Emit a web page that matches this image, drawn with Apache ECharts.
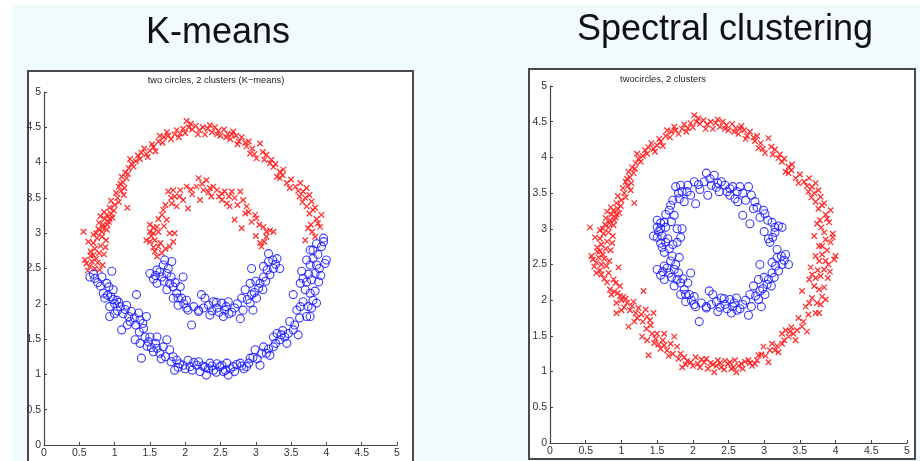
<!DOCTYPE html>
<html>
<head>
<meta charset="utf-8">
<script src="https://cdn.jsdelivr.net/npm/echarts@6/dist/echarts.min.js"></script>
<style>
  html, body { margin: 0; padding: 0; background: #f1fafd; }
  #chart { width: 920px; height: 461px; }
</style>
</head>
<body>
<div id="chart"></div>
<script>
// outer ring, upper part (red in both panels)
const outerUpper = [
  [0.62,2.47],[0.65,2.53],[0.72,2.50],[0.79,2.48],[0.83,2.55],[0.58,2.62],[0.60,2.57],[0.68,2.60],
  [0.66,2.68],[0.74,2.64],[0.78,2.72],[0.85,2.70],[0.72,2.78],[0.80,2.82],[0.70,2.86],[0.63,2.88],
  [0.88,2.90],[0.75,2.93],[0.82,2.95],[0.70,2.98],[0.82,3.02],[0.56,3.02],[0.77,3.06],[0.89,3.05],
  [0.84,3.12],[0.78,3.15],[0.92,3.16],[0.86,3.20],[0.80,3.24],[0.89,3.26],[0.95,3.28],[0.85,3.30],
  [0.93,3.36],[1.00,3.40],[0.95,3.46],[1.04,3.50],[1.18,3.36],[1.02,3.57],[1.09,3.60],[1.06,3.66],
  [1.12,3.72],[1.10,3.80],[1.17,3.78],[1.15,3.86],[1.20,3.92],[1.24,3.98],[1.22,4.05],[1.30,4.02],
  [1.33,4.10],[1.38,4.14],[1.45,4.12],[1.42,4.20],[1.50,4.17],[1.55,4.22],[1.58,4.16],[1.62,4.30],
  [1.64,4.38],[1.70,4.36],[1.74,4.43],[1.80,4.33],[1.85,4.40],[1.88,4.46],[1.93,4.41],[1.97,4.48],
  [2.02,4.59],[2.05,4.50],[2.10,4.47],[2.15,4.52],[2.20,4.46],[2.25,4.50],[2.28,4.40],[2.32,4.48],
  [2.38,4.43],[2.42,4.50],[2.47,4.45],[2.50,4.38],[2.55,4.47],[2.60,4.41],[2.64,4.33],[2.68,4.44],
  [2.72,4.38],[2.76,4.30],[2.80,4.36],[2.85,4.28],[2.87,4.23],[2.92,4.13],[2.95,4.20],[3.01,4.06],
  [3.06,4.27],[3.10,4.15],[3.15,4.11],[3.20,3.99],[3.25,3.94],[3.22,4.04],[3.30,3.80],[3.34,3.87],
  [3.39,3.90],[3.34,3.78],[3.44,3.71],[3.50,3.76],[3.56,3.66],[3.63,3.71],[3.60,3.60],[3.67,3.59],
  [3.72,3.64],[3.70,3.50],[3.72,3.38],[3.79,3.45],[3.81,3.33],[3.76,3.28],[3.93,3.26],[3.86,3.20],
  [3.74,3.07],[3.91,3.09],[3.80,3.02],[3.70,2.90],[3.84,2.95],
  [0.66,2.74],[0.76,2.58],[0.87,2.80],[0.74,3.00],[0.83,3.08],[0.90,3.12],[0.97,3.22],[0.99,3.32],
  [1.06,3.44],[1.13,3.54],[1.08,3.70],[1.19,3.84],[1.27,3.94],[1.36,4.05],[1.47,4.08],[1.53,4.26],
  [1.68,4.28],[1.76,4.38],[1.91,4.36],[2.00,4.42],[2.08,4.55],[2.18,4.40],[2.35,4.53],[2.45,4.40],
  [2.58,4.36],[2.66,4.40],[2.74,4.26],[2.90,4.30],[2.98,4.12],[3.12,4.04],[3.28,3.98],[3.38,3.82],
  [3.48,3.64],[3.62,3.52],[3.76,3.54],[3.66,3.44],[3.84,3.36],[3.88,3.14],[3.78,3.12],[0.70,2.69],
  [0.93,3.20],[1.14,3.64]
];

// outer ring, lower part (blue in K-means, red in spectral)
const outerLower = [
  [0.65,2.38],[0.72,2.36],[0.82,2.38],[0.96,2.46],[0.89,2.29],[0.76,2.30],[0.84,2.15],[0.98,2.20],
  [0.92,2.24],[0.86,2.08],[1.03,2.05],[0.95,2.10],[0.93,1.96],[1.08,1.96],[1.00,2.00],[1.17,1.98],
  [0.93,1.82],[1.12,1.86],[1.04,1.90],[1.24,1.89],[1.31,2.13],[1.34,1.87],[1.22,1.75],[1.28,1.80],
  [1.36,1.77],[1.45,1.82],[1.10,1.63],[1.18,1.70],[1.41,1.65],[1.43,1.53],[1.50,1.53],[1.60,1.53],
  [1.29,1.49],[1.36,1.44],[1.38,1.23],[1.46,1.40],[1.60,1.37],[1.64,1.30],[1.55,1.32],[1.74,1.49],
  [1.69,1.39],[1.78,1.35],[1.72,1.25],[1.83,1.25],[1.88,1.20],[1.85,1.06],[1.92,1.15],[1.97,1.13],
  [2.04,1.20],[2.07,1.11],[2.12,1.17],[2.16,1.13],[2.21,1.04],[2.25,1.12],[2.30,0.99],[2.35,1.16],
  [2.33,1.08],[2.40,1.06],[2.45,1.15],[2.49,1.11],[2.54,1.04],[2.61,0.99],[2.59,1.16],[2.64,1.08],
  [2.68,1.11],[2.73,1.14],[2.78,1.16],[2.83,1.08],[2.87,1.11],[2.92,1.23],[2.99,1.35],[3.06,1.13],
  [3.02,1.22],[3.11,1.39],[3.15,1.30],[3.20,1.27],[3.25,1.39],[3.25,1.53],[3.30,1.58],[3.34,1.49],
  [3.41,1.53],[3.44,1.44],[3.38,1.62],[3.48,1.75],[3.53,1.63],[3.60,1.56],[3.58,1.91],[3.53,2.13],
  [3.63,1.96],[3.67,2.03],[3.72,1.82],[3.77,1.82],[3.79,1.94],[3.81,2.05],[3.86,2.01],[3.77,2.15],
  [3.70,2.20],[3.63,2.29],[3.67,2.36],[3.72,2.31],[3.79,2.34],[3.84,2.43],[3.89,2.31],[3.65,2.46],
  [3.77,2.55],[3.81,2.64],[3.86,2.55],[3.98,2.57],[4.00,2.62],[3.77,2.76],[3.81,2.76],[3.93,2.81],
  [3.96,2.88],[3.96,2.93],[3.86,2.85],
  [0.70,2.42],[0.80,2.25],[0.90,2.12],[0.98,2.06],[1.06,2.02],[1.00,1.86],[1.15,1.92],[1.20,1.82],
  [1.30,1.70],[1.40,1.72],[1.35,1.60],[1.48,1.46],[1.52,1.38],[1.58,1.44],[1.66,1.22],[1.80,1.18],
  [1.90,1.10],[2.00,1.08],[2.10,1.06],[2.19,1.18],[2.28,1.10],[2.38,1.12],[2.44,1.03],[2.52,1.13],
  [2.57,1.06],[2.70,1.04],[2.80,1.12],[2.90,1.16],[2.96,1.24],[3.08,1.30],[3.18,1.36],[3.28,1.44],
  [3.36,1.56],[3.46,1.58],[3.55,1.70],[3.62,1.80],[3.74,1.96],[3.84,2.18],[3.75,2.42],[3.90,2.50],
  [3.88,2.70],[3.72,2.62],[3.92,2.40]
];

// inner ring, upper part (red in K-means, blue in spectral)
const innerUpper = [
  [2.19,3.78],[2.30,3.75],[2.02,3.66],[1.93,3.61],[2.16,3.66],[2.26,3.61],[2.40,3.66],[2.45,3.61],
  [2.52,3.56],[2.56,3.59],[2.66,3.59],[2.78,3.59],[1.76,3.59],[1.83,3.61],[1.85,3.52],[1.81,3.42],
  [1.88,3.38],[1.97,3.47],[2.04,3.35],[2.10,3.55],[2.21,3.47],[2.33,3.58],[2.37,3.52],[2.52,3.47],
  [2.59,3.42],[2.63,3.38],[2.70,3.50],[2.82,3.47],[2.87,3.38],[2.85,3.28],[2.99,3.26],[3.01,3.21],
  [2.94,3.16],[3.11,3.09],[3.20,3.04],[3.25,3.02],[3.15,2.95],[3.06,2.86],[3.08,2.81],[2.80,3.07],
  [2.70,3.19],[1.69,3.33],[1.67,3.26],[1.74,3.19],[1.60,3.09],[1.50,3.12],[1.50,3.02],[1.55,3.00],
  [1.62,3.02],[1.78,3.00],[1.85,3.00],[1.45,2.90],[1.57,2.90],[1.62,2.81],[1.57,2.74],[1.67,2.72],
  [1.60,2.67],[1.78,2.81],[1.83,2.88],[1.50,2.88],
  [2.08,3.62],[2.24,3.70],[2.35,3.64],[2.48,3.52],[2.62,3.52],[2.74,3.40],[2.90,3.30],[3.05,3.12],
  [3.15,3.02],[1.92,3.52],[1.80,3.50],[1.72,3.40],[1.62,3.20],[1.55,3.08],[1.70,3.10],[1.52,2.96],
  [1.65,2.86],[1.72,2.78],[1.55,2.80],[3.00,2.96],[3.12,2.88]
];

// inner ring, lower part (blue in both panels)
const innerLower = [
  [1.50,2.43],[1.60,2.48],[1.69,2.55],[1.71,2.62],[1.81,2.60],[1.67,2.38],[1.60,2.29],[1.74,2.43],
  [1.78,2.29],[1.97,2.38],[1.74,2.20],[1.83,2.24],[1.88,2.15],[1.93,2.24],[1.95,2.08],[1.83,2.08],
  [2.02,2.05],[1.90,1.98],[2.04,1.91],[2.19,1.91],[2.09,1.70],[2.23,2.13],[2.28,2.08],[2.33,1.98],
  [2.40,2.03],[2.45,1.94],[2.35,1.84],[2.52,2.01],[2.56,1.91],[2.61,2.03],[2.54,1.82],[2.70,1.94],
  [2.78,1.79],[2.82,1.91],[2.80,2.08],[2.92,2.01],[2.94,2.13],[2.92,2.29],[3.04,2.22],[3.06,2.29],
  [3.01,2.08],[2.96,1.91],[3.11,2.38],[3.20,2.41],[3.11,2.53],[3.18,2.60],[3.25,2.50],[3.30,2.64],
  [3.34,2.50],[3.18,2.71],[2.94,2.50],[2.85,2.20],[2.02,1.94],[2.19,1.89],[1.55,2.35],[1.64,2.45],
  [2.48,1.88],[2.62,1.86],[3.10,2.20],
  [1.58,2.40],[1.70,2.32],[1.80,2.38],[1.86,2.30],[1.90,2.08],[1.98,2.00],[2.12,1.96],[2.26,1.94],
  [2.38,1.90],[2.44,2.02],[2.58,1.96],[2.66,1.88],[2.74,2.00],[2.88,2.06],[2.98,2.16],[3.00,2.32],
  [3.14,2.32],[3.16,2.48],[3.24,2.62],[3.28,2.56],[1.76,2.50]
];

const chart = echarts.init(document.getElementById("chart"), null, { renderer: "canvas" });

const crossSymbol = "path://M0,0L10,10M10,0L0,10";

const makeAxis = (gridIndex) => ({
  gridIndex,
  min: 0,
  max: 5,
  interval: 0.5,
  axisLine: { show: true, lineStyle: { color: "#444", width: 1.2 } },
  axisTick: { show: true, inside: true, length: 3, lineStyle: { color: "#444" } },
  axisLabel: { fontSize: 10.5, color: "#333", margin: 3, fontFamily: "Liberation Sans" },
  splitLine: { show: false },
});

const redSeries = (idx, data) => ({
  type: "scatter",
  xAxisIndex: idx,
  yAxisIndex: idx,
  symbol: crossSymbol,
  symbolSize: 5.5,
  itemStyle: { color: "rgba(0,0,0,0)", borderColor: "#ff1a1a", borderWidth: 1.3, opacity: 0.9 },
  data,
});

const blueSeries = (idx, data) => ({
  type: "scatter",
  xAxisIndex: idx,
  yAxisIndex: idx,
  symbol: "circle",
  symbolSize: 8,
  itemStyle: { color: "rgba(0,0,0,0)", borderColor: "#1a1aff", borderWidth: 1.1, opacity: 0.85 },
  data,
});

chart.setOption({
  backgroundColor: "#f1fafd",
  animation: false,
  graphic: [
    // white margins of the slide
    { type: "rect", shape: { x: 0, y: 0, width: 920, height: 5 }, style: { fill: "#fff" }, silent: true },
    { type: "rect", shape: { x: 0, y: 0, width: 12, height: 461 }, style: { fill: "#fff" }, silent: true },
    // figure frames
    { type: "rect", z: -10, shape: { x: 28, y: 71, width: 385, height: 395 }, style: { fill: "#fff", stroke: "#4a4a4a", lineWidth: 2 } },
    { type: "rect", z: -10, shape: { x: 529, y: 69, width: 386, height: 390 }, style: { fill: "#fff", stroke: "#4a4a4a", lineWidth: 2 } },
    { type: "text", x: 218, y: 15, style: { text: "K-means", font: "36px 'Liberation Sans'", fill: "#111", textAlign: "center", textVerticalAlign: "top" } },
    { type: "text", x: 725, y: 12, style: { text: "Spectral clustering", font: "36px 'Liberation Sans'", fill: "#111", textAlign: "center", textVerticalAlign: "top" } },
    { type: "text", x: 216, y: 80, style: { text: "two circles, 2 clusters (K\u2212means)", font: "9.3px 'Liberation Sans'", fill: "#222", textAlign: "center", textVerticalAlign: "middle" } },
    { type: "text", x: 663, y: 79, style: { text: "twocircles, 2 clusters", font: "9.3px 'Liberation Sans'", fill: "#222", textAlign: "center", textVerticalAlign: "middle" } },
  ],
  grid: [
    { left: 44, top: 92, width: 353, height: 353 },
    { left: 550, top: 86, width: 357, height: 357 },
  ],
  xAxis: [makeAxis(0), makeAxis(1)],
  yAxis: [makeAxis(0), makeAxis(1)],
  series: [
    redSeries(0, outerUpper.concat(innerUpper)),
    blueSeries(0, outerLower.concat(innerLower)),
    redSeries(1, outerUpper.concat(outerLower)),
    blueSeries(1, innerUpper.concat(innerLower)),
  ],
});
</script>
</body>
</html>
